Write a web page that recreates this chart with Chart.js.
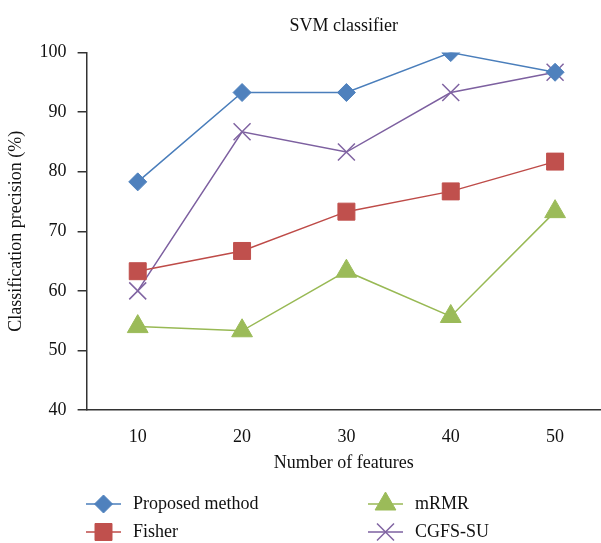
<!DOCTYPE html>
<html>
<head>
<meta charset="utf-8">
<script src="https://cdn.jsdelivr.net/npm/chart.js@4.4.0/dist/chart.umd.min.js"></script>
<style>
  html, body { margin: 0; padding: 0; background: #fff; }
  #wrap { width: 601px; height: 543px; position: relative; }
</style>
</head>
<body>
<div id="wrap"><canvas id="myChart"></canvas></div>
<script>
const features = [10, 20, 30, 40, 50];
const seriesNames = ['Proposed method', 'Fisher', 'mRMR', 'CGFS-SU'];
const proposed = [78.3, 93.3, 93.3, 100, 96.7];
const fisher = [63.3, 66.7, 73.3, 76.7, 81.7];
const mrmr = [54.0, 53.3, 63.3, 55.7, 73.3];
const cgfs = [60.0, 86.7, 83.3, 93.3, 96.7];
const yTicks = [40, 50, 60, 70, 80, 90, 100];

const serif = "'Liberation Serif', 'DejaVu Serif', serif";

function toPoints(vals) {
    return features.map(function (f, i) { return { x: f, y: vals[i] }; });
}

// legend in two columns, drawn under the axis title
const legendPlugin = {
    id: 'twoColLegend',
    afterDraw: function (chart) {
        const ctx = chart.ctx;
        const spots = [[86, 504], [86, 532], [368, 504], [368, 532]];
        chart.data.datasets.forEach(function (ds, i) {
            const x = spots[i][0], y = spots[i][1];
            ctx.save();
            ctx.strokeStyle = ds.borderColor;
            ctx.lineWidth = 1.5;
            ctx.beginPath();
            ctx.moveTo(x, y);
            ctx.lineTo(x + 35, y);
            ctx.stroke();
            ctx.fillStyle = ds.pointBackgroundColor;
            ctx.strokeStyle = ds.pointBorderColor;
            ctx.lineWidth = ds.pointBorderWidth;
            Chart.helpers.drawPoint(ctx, {
                pointStyle: ds.pointStyle,
                radius: ds.pointRadius,
                rotation: 0,
                borderWidth: ds.pointBorderWidth
            }, x + 17.5, y);
            ctx.restore();
            ctx.save();
            ctx.fillStyle = '#111';
            ctx.font = '18px ' + serif;
            ctx.textBaseline = 'middle';
            ctx.fillText(ds.label, x + 47, y);
            ctx.restore();
        });
    }
};

const ctx = document.getElementById('myChart');

const myChart = new Chart(ctx, {
    type: 'line',
    data: {
        datasets: [{
            label: seriesNames[0],
            data: toPoints(proposed),
            borderColor: '#4A7EBB',
            borderWidth: 1.5,
            pointStyle: 'rectRot',
            pointRadius: 9,
            pointBackgroundColor: '#4F81BD',
            pointBorderColor: '#4F81BD',
            pointBorderWidth: 1
        }, {
            label: seriesNames[1],
            data: toPoints(fisher),
            borderColor: '#BE4B48',
            borderWidth: 1.5,
            pointStyle: 'rect',
            pointRadius: 12,
            pointBackgroundColor: '#C0504D',
            pointBorderColor: '#C0504D',
            pointBorderWidth: 1
        }, {
            label: seriesNames[2],
            data: toPoints(mrmr),
            borderColor: '#98B954',
            borderWidth: 1.5,
            pointStyle: 'triangle',
            pointRadius: 12,
            pointBackgroundColor: '#9BBB59',
            pointBorderColor: '#9BBB59',
            pointBorderWidth: 1
        }, {
            label: seriesNames[3],
            data: toPoints(cgfs),
            borderColor: '#7D60A0',
            borderWidth: 1.5,
            pointStyle: 'crossRot',
            pointRadius: 12,
            pointBackgroundColor: '#8064A2',
            pointBorderColor: '#8064A2',
            pointBorderWidth: 1.5
        }]
    },
    options: {
        responsive: true,
        maintainAspectRatio: false,
        animation: false,
        layout: { autoPadding: false, padding: { left: 0, right: 0, top: 15, bottom: 71 } },
        plugins: {
            legend: { display: false },
            title: { display: false },
            tooltip: { enabled: false }
        },
        scales: {
            x: {
                type: 'linear',
                min: 5.1,
                max: 54.4,
                afterBuildTicks: function (axis) {
                    axis.ticks = features.map(function (v) { return { value: v }; });
                },
                grid: { display: false, drawTicks: false },
                border: { display: true, color: '#333', width: 1.5 },
                ticks: {
                    color: '#111',
                    font: { family: serif, size: 18, lineHeight: 1 },
                    padding: 18,
                    maxRotation: 0
                },
                title: {
                    display: true,
                    text: 'Number of features',
                    color: '#111',
                    font: { family: serif, size: 18, lineHeight: 1 },
                    padding: { top: -10, bottom: 0 }
                }
            },
            top: {
                type: 'linear',
                position: 'top',
                min: 0,
                max: 1,
                grid: { display: false },
                border: { display: false },
                ticks: { display: false },
                title: {
                    display: true,
                    text: 'SVM classifier',
                    color: '#111',
                    font: { family: serif, size: 18 },
                    padding: { top: 0, bottom: 8 }
                }
            },
            y: {
                min: 40,
                max: 100,
                afterBuildTicks: function (axis) {
                    axis.ticks = yTicks.map(function (v) { return { value: v }; });
                },
                grid: {
                    drawOnChartArea: false,
                    drawTicks: true,
                    tickLength: 9,
                    color: '#333',
                    lineWidth: 1.5
                },
                border: { display: true, color: '#333', width: 1.5 },
                ticks: {
                    color: '#111',
                    font: { family: serif, size: 18 },
                    padding: 11
                },
                title: {
                    display: true,
                    text: 'Classification precision (%)',
                    color: '#111',
                    font: { family: serif, size: 18 },
                    padding: { top: 5, bottom: 2 }
                }
            }
        }
    },
    plugins: [legendPlugin]
});
</script>
</body>
</html>
